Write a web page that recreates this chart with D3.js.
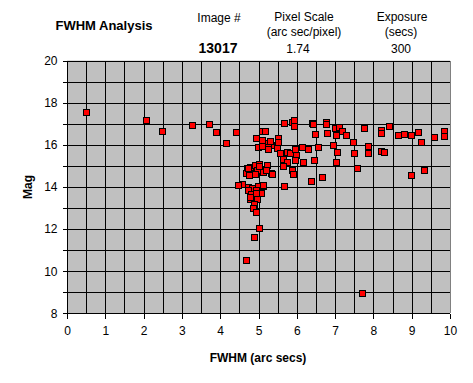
<!DOCTYPE html>
<html><head><meta charset="utf-8">
<script src="https://cdn.jsdelivr.net/npm/d3@7"></script>
<style>
body{margin:0;background:#fff;}
text{font-family:"Liberation Sans",Arial,sans-serif;}
</style></head>
<body><svg id="c" width="473" height="383"></svg>
<script>
const title = "FWHM Analysis";
const imageNumber = "13017";
const pixelScale = "1.74";
const exposure = "300";
const xTicks = [0,1,2,3,4,5,6,7,8,9,10];
const yTicks = [8,10,12,14,16,18,20];
const fwhm = [0.49,2.05,2.47,3.26,3.70,3.88,4.40,4.14,4.56,4.67,4.87,5.01,7.69,
 4.69,4.78,4.91,5.02,5.21,5.11,5.32,4.95,4.86,4.67,4.75,5.01,5.20,4.91,
 4.72,4.82,4.98,5.11,4.93,5.06,4.72,4.80,4.78,4.95,4.89,4.85,4.93,4.47,4.78,5.12,4.94,4.73,
 4.93,4.98,5.08,5.08,5.17,5.08,5.26,5.32,5.26,5.24,5.30,5.50,5.50,5.47,5.56,5.34,
 5.66,5.87,5.92,5.92,6.39,6.43,6.76,6.76,7.00,7.10,6.47,6.78,7.02,
 5.74,5.82,5.95,5.97,6.13,6.28,6.55,6.94,7.04,
 5.63,5.75,5.65,5.95,6.17,6.46,7.02,
 5.87,5.89,6.65,6.36,5.66,
 7.19,7.28,7.75,8.19,8.21,8.40,8.63,8.79,8.97,9.16,9.24,9.57,9.84,9.84,
 7.47,7.85,7.85,7.49,8.19,8.27,7.56,8.97,9.31];
const mag = [17.55,17.17,16.65,16.94,16.99,16.61,16.61,16.09,14.14,10.54,11.62,12.06,8.98,
 14.88,14.93,15.04,15.09,15.04,14.72,14.64,14.80,14.61,14.67,14.56,14.99,14.80,14.61,
 14.01,13.93,14.06,14.06,13.85,13.72,13.85,13.65,13.41,13.42,13.17,13.01,12.82,14.09,13.53,14.09,13.72,14.88,
 16.33,15.90,15.93,16.65,16.67,16.25,16.09,15.98,15.88,15.80,16.19,16.30,16.14,15.86,15.59,14.63,
 17.05,17.07,17.17,16.90,17.05,16.97,17.10,16.98,16.80,16.86,16.50,16.57,16.46,
 15.64,15.59,15.78,15.52,15.90,15.82,15.90,15.98,15.67,
 15.31,15.19,15.00,15.27,15.19,15.30,15.16,
 14.80,14.62,14.48,14.29,14.06,
 16.65,16.48,16.81,16.68,16.57,16.90,16.47,16.51,16.47,16.62,16.14,16.38,16.64,16.42,
 16.14,15.95,15.62,15.62,15.72,15.67,14.91,14.58,14.81];

const svg = d3.select("#c");
const L=67, R=450, T=60.5, B=313.3;
const x = d3.scaleLinear().domain([0,10]).range([L,R]);
const y = d3.scaleLinear().domain([8,20]).range([B,T]);

svg.append("rect").attr("x",L).attr("y",T).attr("width",R-L).attr("height",B-T).attr("fill","#C0C0C0");
// grid
const g = svg.append("g").attr("shape-rendering","crispEdges");
g.selectAll(".vg").data(d3.range(0.5,10.01,0.5)).join("line")
 .attr("x1",d=>Math.round(x(d))+0.5).attr("x2",d=>Math.round(x(d))+0.5).attr("y1",T).attr("y2",B)
 .attr("stroke",d=>d===10?"#808080":"#000").attr("stroke-width",1);
g.selectAll(".hg").data(d3.range(9,20.01,1)).join("line")
 .attr("y1",d=>Math.round(y(d))+0.5).attr("y2",d=>Math.round(y(d))+0.5).attr("x1",L).attr("x2",R)
 .attr("stroke","#000").attr("stroke-width",1);

// axes
const xa = svg.append("g").attr("transform",`translate(0,${Math.round(B)+0.5})`)
 .call(d3.axisBottom(x).tickValues(xTicks).tickSize(5).tickPadding(8).tickFormat(d3.format("d")));
const ya = svg.append("g").attr("transform",`translate(${L+0.5},0)`)
 .call(d3.axisLeft(y).tickValues(d3.range(8,20.01,1)).tickSize(5).tickPadding(5)
   .tickFormat(d=>yTicks.includes(d)?d3.format("d")(d):""));
[xa,ya].forEach(a=>{
  a.select(".domain").attr("stroke","#000").attr("shape-rendering","crispEdges");
  a.selectAll(".tick line").attr("stroke","#000").attr("shape-rendering","crispEdges");
  a.selectAll(".tick text").attr("font-size","12px").attr("fill","#000")
   .attr("font-family","'Liberation Sans',Arial,sans-serif");
});
// remove y domain end caps by redrawing
ya.select(".domain").attr("d",`M0,${T}V${B}`);
xa.select(".domain").attr("d",`M${L},0H${R}`);

// points
svg.append("g").selectAll("rect").data(fwhm.map((f,i)=>[f,mag[i]])).join("rect")
 .attr("x",d=>Math.round(x(d[0]))-3+0.5).attr("y",d=>Math.round(y(d[1]))-3+0.5)
 .attr("width",6).attr("height",6).attr("fill","#FF0000").attr("stroke","#000").attr("stroke-width",1)
 .attr("shape-rendering","crispEdges");

// texts
const t = (txt,xx,yy,opts={})=>svg.append("text").text(txt).attr("x",xx).attr("y",yy)
 .attr("font-size",opts.size||"12px").attr("font-weight",opts.bold?"bold":"normal")
 .attr("text-anchor",opts.anchor||"middle").attr("fill","#000");
t(title,104,30,{bold:true,size:"13px"});
t("Image #",219,21.5);
t(imageNumber,218,53,{bold:true,size:"14px"});
t("Pixel Scale",304,20.5);
t("(arc sec/pixel)",304,36);
t(pixelScale,298,53);
t("Exposure",402,20.5);
t("(secs)",401,36);
t(exposure,401,53);
t("FWHM (arc secs)",258,362,{bold:true});
svg.append("text").text("Mag").attr("transform","translate(32,187) rotate(-90)")
 .attr("text-anchor","middle").attr("font-size","12px").attr("font-weight","bold");
</script></body></html>
